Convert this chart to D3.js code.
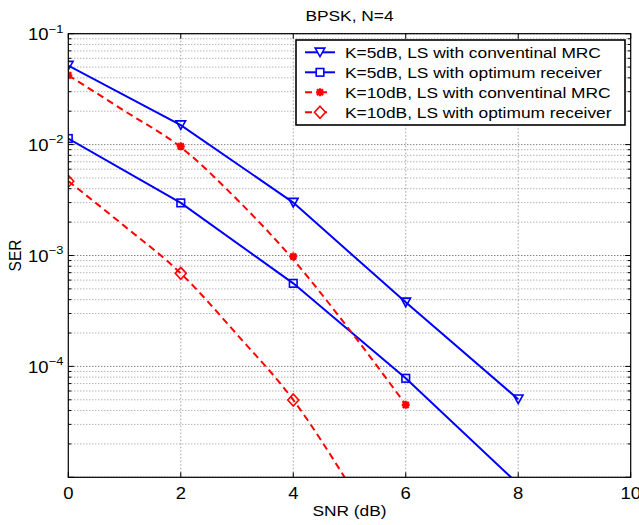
<!DOCTYPE html>
<html lang="en">

<head>
    <meta charset="UTF-8">
    <title>BPSK, N=4</title>
    <style>
        body {
            margin: 0;
            background: #fff;
        }

        svg {
            display: block;
            font-family: "Liberation Sans", Arial, Helvetica, sans-serif;
        }

        .grid-major { stroke: #222; stroke-width: 0.8; stroke-dasharray: 1, 2; }
        .grid-minor { stroke: #777; stroke-width: 0.8; stroke-dasharray: 1, 2; }
        .grid-x { stroke: #888; stroke-width: 0.8; stroke-dasharray: 1.5, 2; }
        .tick { stroke: #000; stroke-width: 1; }
        .frame { fill: none; stroke: #000; stroke-width: 1.2; }
        .label { font-size: 15.5px; fill: #000; }
        .ticklabel { font-size: 16.5px; fill: #000; }
    </style>
</head>

<body>
    <svg width="639" height="525"></svg>

    <script src="https://d3js.org/d3.v7.min.js"></script>
    <script>
        // SNR points of the simulated markers
        const snr = [0, 2, 4, 6, 8];
        const k5Mrc = [0.0516, 0.0150, 0.00300, 3.78e-4, 5.06e-5];
        const k5Opt = [0.01135, 0.00298, 5.61e-4, 7.81e-5, 8.7e-6];
        const k10MrcSnr = [0, 2, 4, 6];
        const k10Mrc = [0.0422, 0.00964, 0.00098, 4.5e-5];
        const k10OptSnr = [0, 2, 4];
        const k10Opt = [0.00468, 6.9e-4, 4.98e-5];

        // dashed red curves (read at every dB)
        const k10MrcCurveSnr = [0, 1, 2, 3, 4, 5, 6];
        const k10MrcCurve = [0.0422, 0.0201, 0.00948, 0.00320, 9.18e-4, 2.14e-4, 4.52e-5];
        const k10OptCurveSnr = [0, 1, 2, 3, 4, 5];
        const k10OptCurve = [0.00468, 0.00184, 6.9e-4, 1.94e-4, 4.98e-5, 8.5e-6];

        const xTicks = [0, 2, 4, 6, 8, 10];
        const yExponents = [-1, -2, -3, -4];
        const legendNames = [
            "K=5dB, LS with conventinal MRC",
            "K=5dB, LS with optimum receiver",
            "K=10dB, LS with conventinal MRC",
            "K=10dB, LS with optimum receiver"
        ];

        const pLeft = 68.3, pRight = 630.7, pTop = 33.7, pBottom = 477.3;
        const stretch = 1.12; // the figure's text is drawn a little wide

        const svg = d3.select("svg");
        const x = d3.scaleLinear().domain([0, 10]).range([pLeft, pRight]);
        const y = d3.scaleLog().domain([1e-5, 1e-1]).range([pBottom, pTop]);

        const isDecade = v => Math.abs(Math.log10(v) - Math.round(Math.log10(v))) < 1e-9;

        function addText(parent, tx, ty, str, cls, anchor, extra) {
            return parent.append("text")
                .attr("class", cls)
                .attr("transform", `translate(${tx},${ty}) scale(${stretch},1)` + (extra || ""))
                .attr("text-anchor", anchor || "start")
                .text(str);
        }

        // grid
        const grid = svg.append("g");
        y.ticks().forEach(v => {
            grid.append("line")
                .attr("class", isDecade(v) ? "grid-major" : "grid-minor")
                .attr("x1", pLeft).attr("x2", pRight)
                .attr("y1", y(v)).attr("y2", y(v));
        });
        xTicks.slice(1, -1).forEach(v => {
            grid.append("line")
                .attr("class", "grid-x")
                .attr("x1", x(v)).attr("x2", x(v))
                .attr("y1", pTop).attr("y2", pBottom);
        });

        // ticks on all four sides, pointing inwards
        const ticks = svg.append("g");
        xTicks.forEach(v => {
            ticks.append("line").attr("class", "tick")
                .attr("x1", x(v)).attr("x2", x(v)).attr("y1", pBottom).attr("y2", pBottom - 5);
            ticks.append("line").attr("class", "tick")
                .attr("x1", x(v)).attr("x2", x(v)).attr("y1", pTop).attr("y2", pTop + 5);
        });
        y.ticks().forEach(v => {
            const len = isDecade(v) ? 5.5 : 3;
            ticks.append("line").attr("class", "tick")
                .attr("x1", pLeft).attr("x2", pLeft + len).attr("y1", y(v)).attr("y2", y(v));
            ticks.append("line").attr("class", "tick")
                .attr("x1", pRight).attr("x2", pRight - len).attr("y1", y(v)).attr("y2", y(v));
        });

        // tick labels
        xTicks.forEach(v => {
            addText(svg, x(v), pBottom + 21.5, v, "ticklabel", "middle");
        });
        yExponents.forEach(e => {
            const t = addText(svg, 63.5, y(Math.pow(10, e)) + 6.3, null, "ticklabel", "end");
            t.append("tspan").text("10");
            t.append("tspan").attr("font-size", "11.5px").attr("dy", -7.5).attr("dx", 0.3).text("\u2212" + (-e));
        });

        // titles
        addText(svg, (pLeft + pRight) / 2, 20.9, "BPSK, N=4", "label", "middle");
        addText(svg, (pLeft + pRight) / 2, 516, "SNR (dB)", "label", "middle");
        addText(svg, 21, (pTop + pBottom) / 2, "SER", "label", "middle", " rotate(-90)");

        // data
        svg.append("clipPath").attr("id", "plotClip")
            .append("rect").attr("x", pLeft).attr("y", pTop)
            .attr("width", pRight - pLeft).attr("height", pBottom - pTop);

        const plot = svg.append("g").attr("clip-path", "url(#plotClip)");

        const straight = d3.line().x(d => x(d[0])).y(d => y(d[1]));
        const smooth = d3.line().x(d => x(d[0])).y(d => y(d[1])).curve(d3.curveMonotoneX);

        const blue = "#0000ff", red = "#ff0000";

        const markers = {
            tri: g => g.append("path").attr("d", "M-4.8,-4.2L4.8,-4.2L0,4.4Z"),
            square: g => g.append("rect").attr("x", -3.8).attr("y", -3.8).attr("width", 7.6).attr("height", 7.6),
            diamond: g => g.append("path").attr("d", "M0,-6L5.5,0L0,6L-5.5,0Z"),
            star: g => g.append("path").attr("d", "M-4,0L4,0M0,-4L0,4M-3,-3L3,3M-3,3L3,-3")
        };

        const series = [
            { lineX: snr, lineY: k5Mrc, mx: snr, my: k5Mrc, color: blue, dash: null, marker: "tri", curve: straight },
            { lineX: snr, lineY: k5Opt, mx: snr, my: k5Opt, color: blue, dash: null, marker: "square", curve: straight },
            { lineX: k10MrcCurveSnr, lineY: k10MrcCurve, mx: k10MrcSnr, my: k10Mrc, color: red, dash: "7,4.5", marker: "star", curve: smooth },
            { lineX: k10OptCurveSnr, lineY: k10OptCurve, mx: k10OptSnr, my: k10Opt, color: red, dash: "7,4.5", marker: "diamond", curve: smooth }
        ];

        series.forEach(s => {
            plot.append("path")
                .datum(s.lineX.map((v, i) => [v, s.lineY[i]]))
                .attr("d", s.curve)
                .attr("fill", "none")
                .attr("stroke", s.color)
                .attr("stroke-width", 2)
                .attr("stroke-dasharray", s.dash);

            s.mx.forEach((v, i) => {
                if (s.my[i] < 1e-5) return;
                const g = plot.append("g")
                    .attr("transform", `translate(${x(v)},${y(s.my[i])})`)
                    .attr("fill", "none")
                    .attr("stroke", s.color)
                    .attr("stroke-width", s.marker === "star" ? 2.2 : 1.6);
                markers[s.marker](g);
            });
        });

        // frame
        svg.append("rect").attr("class", "frame")
            .attr("x", pLeft).attr("y", pTop)
            .attr("width", pRight - pLeft).attr("height", pBottom - pTop);

        // legend
        const legend = svg.append("g");
        legend.append("rect")
            .attr("x", 296).attr("y", 40).attr("width", 329).attr("height", 85)
            .attr("fill", "#fff").attr("stroke", "#000").attr("stroke-width", 1.6);

        legendNames.forEach((name, i) => {
            const s = series[i];
            const ly = 52.3 + i * 20;
            legend.append("line")
                .attr("x1", 305).attr("x2", 335).attr("y1", ly).attr("y2", ly)
                .attr("stroke", s.color).attr("stroke-width", 2)
                .attr("stroke-dasharray", s.dash ? "7,8" : null);
            const g = legend.append("g")
                .attr("transform", `translate(320,${ly})`)
                .attr("fill", "#fff")
                .attr("stroke", s.color)
                .attr("stroke-width", s.marker === "star" ? 2.2 : 1.6);
            markers[s.marker](g);
            addText(legend, 345, ly + 5.5, name, "label");
        });
    </script>
</body>

</html>
